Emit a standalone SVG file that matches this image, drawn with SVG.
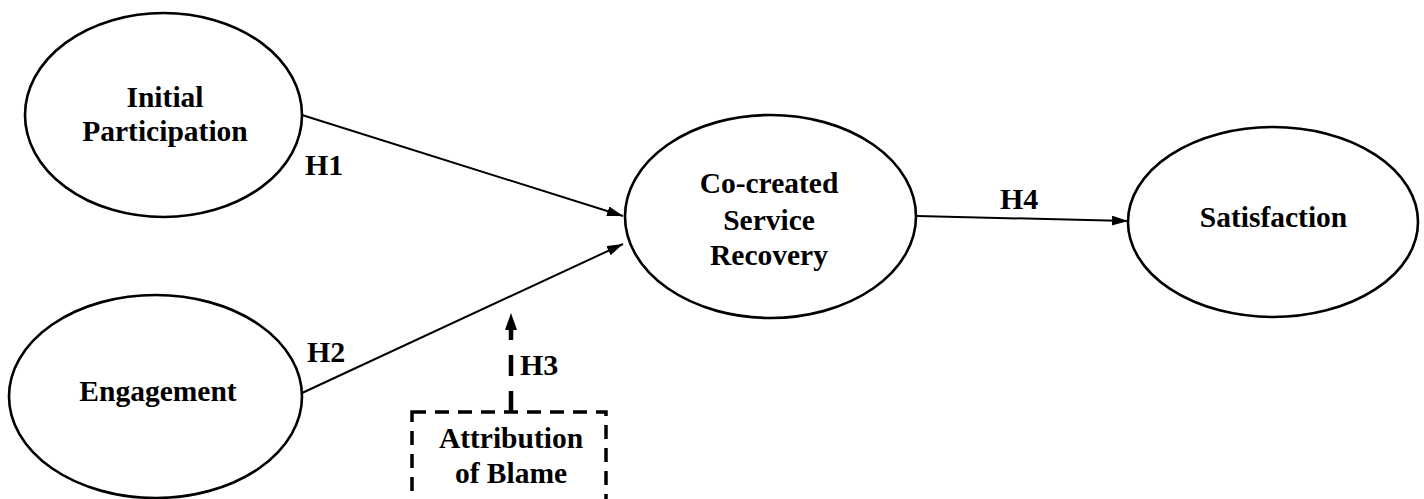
<svg xmlns="http://www.w3.org/2000/svg" width="1424" height="499" viewBox="0 0 1424 499">
<defs>
<style>
.node{fill:#fff;stroke:#000;stroke-width:2.6}
.t{font-family:"Liberation Serif","Times New Roman",serif;font-weight:bold;font-size:29.5px;fill:#000;text-anchor:middle}
.h{font-family:"Liberation Serif","Times New Roman",serif;font-weight:bold;font-size:30px;fill:#000}
.edge{stroke:#000;stroke-width:2;fill:none}
.dash{stroke:#000;stroke-width:4.5;fill:none;stroke-dasharray:21 15}
.box{fill:#fff;stroke:#000;stroke-width:3.5;stroke-dasharray:14 9}
</style>
<marker id="arr" markerUnits="userSpaceOnUse" viewBox="0 0 16 10" refX="16" refY="5" markerWidth="16" markerHeight="10" orient="auto">
<path d="M0,0 L16,5 L0,10 Z" fill="#000"/>
</marker>
<marker id="arrBig" markerUnits="userSpaceOnUse" viewBox="0 0 17 12" refX="0" refY="6" markerWidth="17" markerHeight="12" orient="auto">
<path d="M0,0 L17,6 L0,12 Z" fill="#000"/>
</marker>
</defs>
<rect width="1424" height="499" fill="#fff"/>
<g id="connectors">
<line class="edge" x1="302" y1="115" x2="623" y2="216" marker-end="url(#arr)"/>
<line class="edge" x1="302" y1="393" x2="623" y2="244" marker-end="url(#arr)"/>
<line class="edge" x1="917" y1="216" x2="1128" y2="221" marker-end="url(#arr)"/>
<line class="dash" x1="511" y1="412" x2="511" y2="330" marker-end="url(#arrBig)"/>
<text class="h" x="305" y="175">H1</text>
<text class="h" x="307" y="362">H2</text>
<text class="h" x="520" y="375">H3</text>
<text class="h" x="1000" y="209">H4</text>
</g>
<g id="initial-participation">
<ellipse class="node" cx="163.5" cy="115" rx="138.5" ry="102"/>
<text class="t" x="165" y="107">Initial</text>
<text class="t" x="165" y="141">Participation</text>
</g>
<g id="engagement">
<ellipse class="node" cx="155.5" cy="396.5" rx="146.5" ry="101.5"/>
<text class="t" x="158" y="401">Engagement</text>
</g>
<g id="co-created-service-recovery">
<ellipse class="node" cx="770.5" cy="216.5" rx="145.5" ry="101.5"/>
<text class="t" x="769" y="193">Co-created</text>
<text class="t" x="769" y="230">Service</text>
<text class="t" x="769" y="265">Recovery</text>
</g>
<g id="satisfaction">
<ellipse class="node" cx="1273" cy="222" rx="145" ry="95"/>
<text class="t" x="1273.5" y="227">Satisfaction</text>
</g>
<g id="attribution-of-blame">
<rect class="box" x="412" y="412" width="194" height="110"/>
<text class="t" x="511" y="448">Attribution</text>
<text class="t" x="511" y="483">of Blame</text>
</g>
</svg>
